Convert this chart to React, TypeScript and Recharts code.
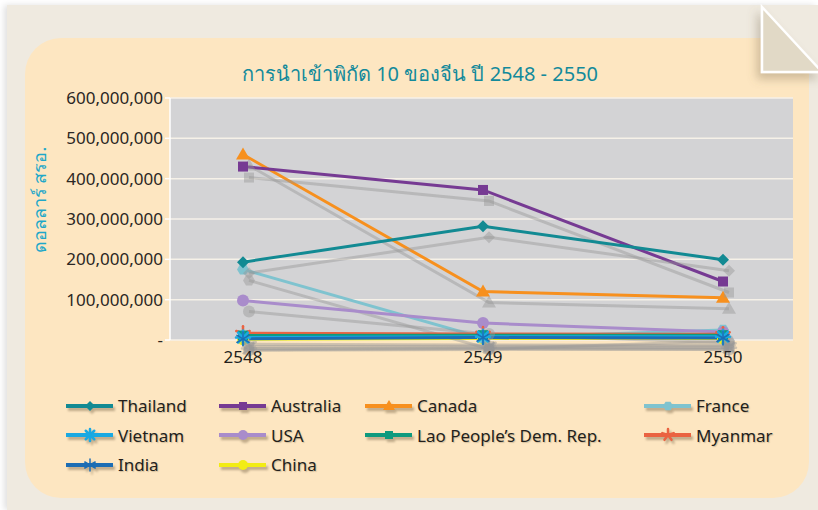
import { CartesianGrid, Line, LineChart, XAxis, YAxis } from "recharts"

const years = ["2548", "2549", "2550"]
const yTicks = [0, 100_000_000, 200_000_000, 300_000_000, 400_000_000, 500_000_000, 600_000_000]

const thailand = [193_000_000, 282_000_000, 199_000_000]
const australia = [430_000_000, 372_000_000, 145_000_000]
const canada = [460_000_000, 120_000_000, 105_000_000]
const france = [175_000_000, 5_000_000, 25_000_000]
const vietnam = [6_000_000, 8_000_000, 8_000_000]
const usa = [98_000_000, 42_000_000, 20_000_000]
const lao = [11_000_000, 12_000_000, 12_000_000]
const myanmar = [17_000_000, 15_000_000, 14_000_000]
const india = [3_000_000, 6_000_000, 5_000_000]
const china = [2_000_000, 4_000_000, 4_000_000]

type Shape = "diamond" | "square" | "triangle" | "hexagon" | "burst" | "circle" | "star" | "asterisk"

const series: { key: string; name: string; values: number[]; color: string; shape: Shape }[] = [
  { key: "thailand", name: "Thailand", values: thailand, color: "#128a93", shape: "diamond" },
  { key: "australia", name: "Australia", values: australia, color: "#763a93", shape: "square" },
  { key: "canada", name: "Canada", values: canada, color: "#f7901e", shape: "triangle" },
  { key: "france", name: "France", values: france, color: "#7fc3cf", shape: "hexagon" },
  { key: "vietnam", name: "Vietnam", values: vietnam, color: "#1aa9e2", shape: "burst" },
  { key: "usa", name: "USA", values: usa, color: "#a98ccb", shape: "circle" },
  { key: "lao", name: "Lao People\u2019s Dem. Rep.", values: lao, color: "#0e9a7e", shape: "square" },
  { key: "myanmar", name: "Myanmar", values: myanmar, color: "#ea6342", shape: "star" },
  { key: "india", name: "India", values: india, color: "#1c6db4", shape: "asterisk" },
  { key: "china", name: "China", values: china, color: "#f2ec14", shape: "circle" },
]

// paint order: small series sit on top of the big ones, india last
const drawOrder = ["china", "france", "usa", "canada", "australia", "thailand", "myanmar", "lao", "vietnam", "india"]

const data = years.map((year, i) => {
  const row: Record<string, string | number> = { year }
  series.forEach((s) => { row[s.key] = s.values[i] })
  return row
})

// legend grid: 4 columns, items fill row by row
const legendCols = [65, 218, 364, 643]

function fmtTick(v: number) {
  return v === 0 ? "-" : v.toLocaleString("en-US")
}

function Marker({ shape, cx, cy, color, s = 6 }: { shape: Shape; cx: number; cy: number; color: string; s?: number }) {
  switch (shape) {
    case "diamond":
      return <polygon points={`${cx},${cy - s} ${cx + s},${cy} ${cx},${cy + s} ${cx - s},${cy}`} fill={color} />
    case "square":
      return <rect x={cx - s + 1} y={cy - s + 1} width={2 * s - 2} height={2 * s - 2} fill={color} />
    case "triangle":
      return <polygon points={`${cx},${cy - s - 1} ${cx + s + 1},${cy + s - 1} ${cx - s - 1},${cy + s - 1}`} fill={color} />
    case "hexagon": {
      const pts = [0, 1, 2, 3, 4, 5].map((k) => {
        const a = (Math.PI / 3) * k
        return `${cx + s * Math.cos(a)},${cy + s * Math.sin(a)}`
      })
      return <polygon points={pts.join(" ")} fill={color} />
    }
    case "circle":
      return <circle cx={cx} cy={cy} r={s} fill={color} />
    case "burst":
    case "star":
    case "asterisk": {
      const n = shape === "burst" ? 8 : shape === "star" ? 5 : 6
      const w = shape === "asterisk" ? 1.5 : 2.5
      return (
        <g stroke={color} strokeWidth={w} strokeLinecap="round">
          {Array.from({ length: n }, (_, k) => {
            const a = (2 * Math.PI * k) / n - Math.PI / 2
            return <line key={k} x1={cx} y1={cy} x2={cx + (s + 1) * Math.cos(a)} y2={cy + (s + 1) * Math.sin(a)} />
          })}
        </g>
      )
    }
  }
}

function LegendItem({ name, color, shape }: { name: string; color: string; shape: Shape }) {
  return (
    <div style={{ display: "flex", alignItems: "center", height: 29 }}>
      <svg width={50} height={20} style={{ overflow: "visible", filter: "drop-shadow(2px 3px 1px rgba(120,100,70,0.45))" }}>
        <line x1={1} y1={10} x2={48} y2={10} stroke={color} strokeWidth={4} />
        <Marker shape={shape} cx={25} cy={10} color={color} s={5} />
      </svg>
      <span style={{ marginLeft: 3, fontSize: 17, color: "#231f1c", textShadow: "1px 1px 1px rgba(120,100,70,0.3)" }}>{name}</span>
    </div>
  )
}

export default function App() {
  return (
    <div style={{ position: "absolute", left: 0, top: 0, width: 818, height: 510, background: "#ffffff", overflow: "hidden", fontFamily: "'Noto Sans', sans-serif" }}>
      <style>{`.recharts-line-curve, .recharts-line-dots { filter: drop-shadow(6px 11px 0.5px rgba(150,150,150,0.45)); }`}</style>
      {/* page */}
      <div style={{ position: "absolute", left: 7, top: 5, width: 811, height: 505, background: "#efeae0", boxShadow: "-3px 0 6px rgba(0,0,0,0.12)" }} />
      {/* card */}
      <div style={{ position: "absolute", left: 25, top: 38, width: 784, height: 460, background: "#fde6c1", borderRadius: 36 }} />
      {/* folded corner */}
      <svg width={818} height={510} style={{ position: "absolute", left: 0, top: 0 }}>
        <defs>
          <filter id="foldShadow" x="-50%" y="-50%" width="200%" height="200%">
            <feDropShadow dx="-4" dy="6" stdDeviation="5" floodColor="#7a6a50" floodOpacity="0.35" />
          </filter>
        </defs>
        <polygon points="762,7 822,72 762,72" fill="#e1d9c6" stroke="#ffffff" strokeWidth={2.5} filter="url(#foldShadow)" />
      </svg>
      <div style={{ position: "absolute", left: 0, width: 840, top: 58, textAlign: "center", fontSize: 20, color: "#138a9b" }}>
        การนำเข้าพิกัด 10 ของจีน ปี 2548 - 2550
      </div>
      <div style={{ position: "absolute", left: 0, top: 0 }}>
        <LineChart width={818} height={380} data={data} margin={{ top: 98, right: 25, bottom: 10, left: 40 }}>
          <CartesianGrid vertical={false} fill="#d3d3d5" stroke="#f6f1e8" strokeWidth={1.5} />
          <XAxis
            dataKey="year"
            padding={{ left: 73, right: 70 }}
            axisLine={false}
            tickLine={false}
            height={30}
            tick={{ fontSize: 17, fill: "#231f1c" }}
            dy={3}
          />
          <YAxis
            domain={[0, 600_000_000]}
            ticks={yTicks}
            tickFormatter={fmtTick}
            width={130}
            axisLine={{ stroke: "#ffffff", strokeWidth: 1.5 }}
            tickLine={{ stroke: "#ffffff", strokeWidth: 1.5 }}
            tickSize={5}
            tick={{ fontSize: 17, fill: "#2b2724" }}
            label={{
              content: () => (
                <text x={46} y={200} transform="rotate(-90 46 200)" textAnchor="middle" fontSize={18} fill="#1fa8c9">
                  ดอลลาร์ สรอ.
                </text>
              ),
            }}
          />
          {drawOrder.map((k) => {
            const s = series.find((x) => x.key === k)!
            return (
              <Line
                key={s.key}
                dataKey={s.key}
                name={s.name}
                stroke={s.color}
                strokeWidth={3}
                isAnimationActive={false}
                activeDot={false}
                dot={(p: any) => <Marker key={`${s.key}-${p.index}`} shape={s.shape} cx={p.cx} cy={p.cy} color={s.color} />}
              />
            )
          })}
        </LineChart>
      </div>
      {series.map((s, i) => (
        <div key={s.key} style={{ position: "absolute", left: legendCols[i % 4], top: 391 + Math.floor(i / 4) * 29.5 }}>
          <LegendItem name={s.name} color={s.color} shape={s.shape} />
        </div>
      ))}
    </div>
  )
}
